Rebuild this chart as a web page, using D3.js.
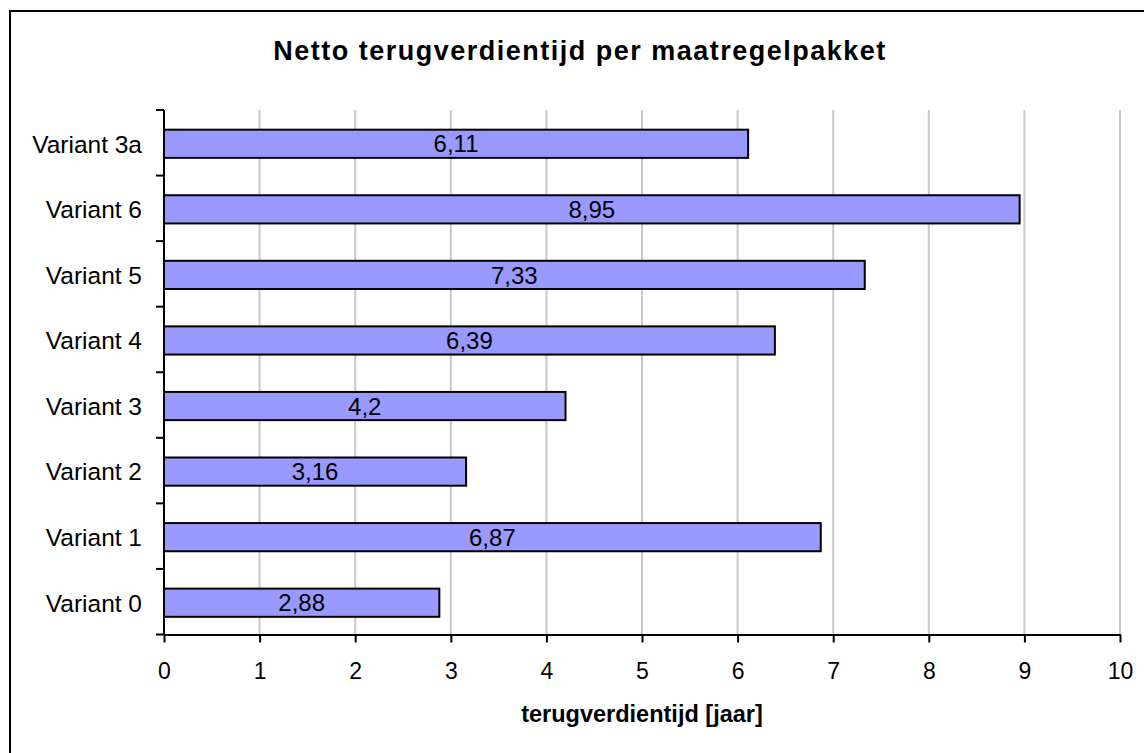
<!DOCTYPE html>
<html>
<head>
<meta charset="utf-8">
<script src="https://cdn.jsdelivr.net/npm/d3@7"></script>
<style>
  html, body { margin: 0; padding: 0; background: #fff; }
  svg { display: block; }
  text { font-family: "Liberation Sans", Arial, sans-serif; fill: #000; }
  .grid line { stroke: #c8c8c8; stroke-width: 2; }
  .axis path, .axis line { stroke: #000; stroke-width: 2; }
</style>
</head>
<body>
<svg id="chart" width="1144" height="753"></svg>
<script>
  // chart data, top to bottom as in the picture
  var categories = ['Variant 3a', 'Variant 6', 'Variant 5', 'Variant 4',
                    'Variant 3', 'Variant 2', 'Variant 1', 'Variant 0'];
  var values = [6.11, 8.95, 7.33, 6.39, 4.2, 3.16, 6.87, 2.88];
  var xTicks = [0, 1, 2, 3, 4, 5, 6, 7, 8, 9, 10];
  var titleText = 'Netto terugverdientijd per maatregelpakket';
  var xLabel = 'terugverdientijd [jaar]';

  var svg = d3.select('#chart'),
      plot = { left: 164, right: 1120, top: 110, bottom: 634.5 },
      barPad = 0.57,

      x = d3.scaleLinear()
        .domain([0, 10])
        .range([plot.left, plot.right]),

      y = d3.scaleBand()
        .domain(categories)
        .range([plot.top, plot.bottom])
        .paddingInner(barPad)
        .paddingOuter(barPad / 2),

      fmt = function(v) { return String(v).replace('.', ','); },

      rows = categories.map(function(c, i) { return { cat: c, val: values[i] }; });

  // outer frame (only left and top edge visible)
  svg.append('rect')
    .attr('x', 10).attr('y', 11)
    .attr('width', 1200).attr('height', 800)
    .attr('fill', 'none')
    .attr('stroke', '#000')
    .attr('stroke-width', 2);

  svg.append('text')
    .attr('x', 580)
    .attr('y', 60)
    .attr('text-anchor', 'middle')
    .style('font-size', '27px')
    .style('font-weight', 'bold')
    .style('letter-spacing', '1.5px')
    .text(titleText);

  // vertical gridlines
  svg.append('g')
    .attr('class', 'grid')
    .selectAll('line')
    .data(xTicks.filter(function(t) { return t > 0; }))
    .enter()
      .append('line')
      .attr('x1', function(d) { return x(d); })
      .attr('x2', function(d) { return x(d); })
      .attr('y1', plot.top)
      .attr('y2', plot.bottom);

  // bars
  svg.append('g')
    .selectAll('rect')
    .data(rows)
    .enter()
      .append('rect')
      .attr('x', x(0))
      .attr('y', function(d) { return y(d.cat) + 1; })
      .attr('width', function(d) { return x(d.val) - x(0); })
      .attr('height', y.bandwidth())
      .attr('fill', '#9999ff')
      .attr('stroke', '#000')
      .attr('stroke-width', 2);

  svg.append('g')
    .selectAll('text')
    .data(rows)
    .enter()
      .append('text')
      .attr('x', function(d) { return (x(0) + x(d.val)) / 2; })
      .attr('y', function(d) { return y(d.cat) + 1 + y.bandwidth() / 2; })
      .attr('dy', '0.36em')
      .attr('text-anchor', 'middle')
      .style('font-size', '24px')
      .text(function(d) { return fmt(d.val); });

  // x axis
  var xAxis = svg.append('g')
    .attr('class', 'axis')
    .attr('transform', 'translate(0,' + plot.bottom + ')')
    .call(d3.axisBottom(x).tickValues(xTicks).tickSize(8).tickSizeOuter(0).tickPadding(20));

  xAxis.selectAll('text')
    .style('font-size', '23px');

  // y axis: tick marks sit on category boundaries
  var boundaries = d3.range(categories.length + 1).map(function(i) {
    return plot.top + i * y.step();
  });

  var yAxis = svg.append('g').attr('class', 'axis');

  yAxis.append('line')
    .attr('x1', x(0)).attr('x2', x(0))
    .attr('y1', plot.top).attr('y2', plot.bottom);

  yAxis.selectAll('line.tick')
    .data(boundaries)
    .enter()
      .append('line')
      .attr('class', 'tick')
      .attr('x1', x(0) - 8).attr('x2', x(0))
      .attr('y1', function(d) { return d; })
      .attr('y2', function(d) { return d; });

  yAxis.selectAll('text')
    .data(categories)
    .enter()
      .append('text')
      .attr('x', x(0) - 22)
      .attr('y', function(d) { return y(d) + 1 + y.bandwidth() / 2; })
      .attr('dy', '0.36em')
      .attr('text-anchor', 'end')
      .style('font-size', '24.5px')
      .text(function(d) { return d; });

  svg.append('text')
    .attr('x', (plot.left + plot.right) / 2)
    .attr('y', 722)
    .attr('text-anchor', 'middle')
    .style('font-size', '23.5px')
    .style('font-weight', 'bold')
    .text(xLabel);
</script>
</body>
</html>
